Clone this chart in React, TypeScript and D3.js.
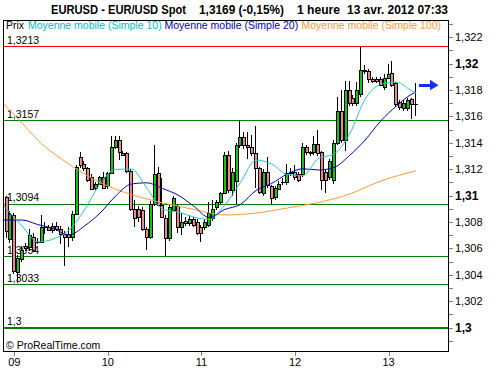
import React from "react";
import * as d3 from "d3";

// EUR/USD hourly candles, first candle = 22:00 on the 8th (hour -2 relative to 09 00:00)
const firstHour = -2;
const opens = [
  1.3099, 1.3067, 1.3085, 1.3042, 1.3052, 1.3060, 1.3061, 1.3069, 1.3065, 1.3065, 1.3076, 1.3076, 1.3074, 1.3077, 1.3075, 1.3071,
  1.3071, 1.3069, 1.3086, 1.3129, 1.3124, 1.3121, 1.3114, 1.3106, 1.3109, 1.3114, 1.3107, 1.3117, 1.3137, 1.3142, 1.3132, 1.3132,
  1.3119, 1.3090, 1.3090, 1.3089, 1.3075, 1.3069, 1.3094, 1.3117, 1.3093, 1.3083, 1.3068, 1.3089, 1.3092, 1.3076, 1.3081, 1.3079,
  1.3082, 1.3080, 1.3076, 1.3076, 1.3078, 1.3083, 1.3091, 1.3095, 1.3102, 1.3131, 1.3104, 1.3111, 1.3138, 1.3144, 1.3138, 1.3137,
  1.3132, 1.3121, 1.3102, 1.3118, 1.3107, 1.3099, 1.3105, 1.3110, 1.3110, 1.3117, 1.3118, 1.3116, 1.3116, 1.3137, 1.3133, 1.3133,
  1.3139, 1.3133, 1.3118, 1.3114, 1.3112, 1.3140, 1.3164, 1.3142, 1.3180, 1.3174, 1.3170, 1.3177, 1.3195, 1.3194, 1.3188, 1.3188,
  1.3188, 1.3182, 1.3189, 1.3193, 1.3185, 1.3171, 1.3166, 1.3166, 1.3173, 1.3169,
];
const highs = [
  1.3100, 1.3088, 1.3087, 1.3055, 1.3062, 1.3064, 1.3075, 1.3072, 1.3068, 1.3085, 1.3080, 1.3078, 1.3079, 1.3080, 1.3077, 1.3073,
  1.3076, 1.3088, 1.3123, 1.3133, 1.3126, 1.3122, 1.3116, 1.3110, 1.3115, 1.3118, 1.3118, 1.3145, 1.3145, 1.3145, 1.3134, 1.3133,
  1.3120, 1.3097, 1.3092, 1.3091, 1.3076, 1.3096, 1.3138, 1.3122, 1.3113, 1.3085, 1.3093, 1.3100, 1.3094, 1.3087, 1.3084, 1.3085,
  1.3084, 1.3082, 1.3078, 1.3082, 1.3095, 1.3097, 1.3097, 1.3103, 1.3133, 1.3134, 1.3121, 1.3140, 1.3157, 1.3148, 1.3148, 1.3146,
  1.3153, 1.3122, 1.3120, 1.3129, 1.3108, 1.3107, 1.3111, 1.3113, 1.3124, 1.3121, 1.3123, 1.3118, 1.3140, 1.3138, 1.3134, 1.3145,
  1.3150, 1.3134, 1.3120, 1.3128, 1.3142, 1.3175, 1.3180, 1.3187, 1.3187, 1.3176, 1.3186, 1.3213, 1.3199, 1.3196, 1.3190, 1.3190,
  1.3190, 1.3192, 1.3200, 1.3202, 1.3186, 1.3172, 1.3172, 1.3174, 1.3174, 1.3185,
];
const lows = [
  1.3068, 1.3064, 1.3041, 1.3034, 1.3050, 1.3058, 1.3058, 1.3057, 1.3063, 1.3064, 1.3071, 1.3073, 1.3072, 1.3073, 1.3063, 1.3047,
  1.3061, 1.3066, 1.3085, 1.3121, 1.3119, 1.3110, 1.3104, 1.3104, 1.3108, 1.3105, 1.3105, 1.3116, 1.3135, 1.3127, 1.3130, 1.3117,
  1.3088, 1.3076, 1.3080, 1.3073, 1.3059, 1.3067, 1.3092, 1.3092, 1.3083, 1.3054, 1.3066, 1.3088, 1.3072, 1.3070, 1.3077, 1.3077,
  1.3076, 1.3070, 1.3065, 1.3074, 1.3076, 1.3081, 1.3089, 1.3094, 1.3101, 1.3102, 1.3100, 1.3094, 1.3136, 1.3135, 1.3128, 1.3130,
  1.3106, 1.3101, 1.3100, 1.3106, 1.3094, 1.3097, 1.3104, 1.3108, 1.3108, 1.3115, 1.3112, 1.3110, 1.3114, 1.3131, 1.3130, 1.3131,
  1.3130, 1.3104, 1.3102, 1.3112, 1.3109, 1.3138, 1.3140, 1.3134, 1.3168, 1.3168, 1.3168, 1.3175, 1.3192, 1.3185, 1.3185, 1.3185,
  1.3183, 1.3180, 1.3188, 1.3182, 1.3167, 1.3165, 1.3164, 1.3164, 1.3158, 1.3160,
];
const closes = [
  1.3073, 1.3086, 1.3043, 1.3053, 1.3059, 1.3062, 1.3070, 1.3059, 1.3065, 1.3076, 1.3076, 1.3074, 1.3077, 1.3075, 1.3071, 1.3069,
  1.3069, 1.3086, 1.3122, 1.3123, 1.3121, 1.3112, 1.3105, 1.3109, 1.3114, 1.3106, 1.3117, 1.3137, 1.3142, 1.3133, 1.3131, 1.3119,
  1.3090, 1.3083, 1.3084, 1.3075, 1.3069, 1.3094, 1.3116, 1.3093, 1.3084, 1.3068, 1.3091, 1.3098, 1.3076, 1.3080, 1.3079, 1.3082,
  1.3078, 1.3072, 1.3072, 1.3080, 1.3087, 1.3090, 1.3095, 1.3102, 1.3131, 1.3104, 1.3118, 1.3138, 1.3144, 1.3138, 1.3137, 1.3132,
  1.3121, 1.3103, 1.3118, 1.3108, 1.3098, 1.3106, 1.3109, 1.3110, 1.3117, 1.3118, 1.3114, 1.3112, 1.3137, 1.3133, 1.3132, 1.3139,
  1.3132, 1.3112, 1.3112, 1.3126, 1.3140, 1.3164, 1.3142, 1.3180, 1.3170, 1.3170, 1.3180, 1.3195, 1.3194, 1.3188, 1.3187, 1.3187,
  1.3184, 1.3189, 1.3192, 1.3184, 1.3169, 1.3167, 1.3170, 1.3172, 1.3169, 1.3169,
];

// moving averages
const maHours = [-3, 2, 6, 10, 14, 18, 22, 26, 30, 34, 38, 42, 46, 50, 54, 58, 62, 66, 70, 74, 78, 82, 86, 90, 94, 98, 102, 103];
const sma10 = [
  1.3093, 1.3077, 1.30649, 1.30671, 1.30736, 1.30891, 1.31088, 1.31198, 1.31201, 1.31057, 1.30898, 1.30876, 1.30838, 1.30819,
  1.30929, 1.31099, 1.31269, 1.31239, 1.3116, 1.31152, 1.31281, 1.31315, 1.31466, 1.31731, 1.31842, 1.3186, 1.31792, 1.31779,
];
const sma20 = [
  1.30815, 1.30815, 1.30781, 1.30751, 1.30702, 1.3077, 1.30868, 1.30997, 1.31088, 1.31097, 1.31054, 1.31004, 1.30921, 1.30834,
  1.30895, 1.30933, 1.31039, 1.31092, 1.31163, 1.31203, 1.31194, 1.31213, 1.31304, 1.31421, 1.31565, 1.31678, 1.31769, 1.31784,
];
const sma100Hours = [-3, 2, 6, 14, 22, 30, 38, 46, 54, 62, 70, 78, 86, 94, 103];
const sma100 = [1.31701, 1.31549, 1.31421, 1.31239, 1.31099, 1.31008, 1.30946, 1.30896, 1.30853, 1.30868, 1.30906, 1.30948, 1.31012, 1.3111, 1.31188];

const levels = [1.3213, 1.3157, 1.3094, 1.3054, 1.3033, 1.3];
const levelLabels = ["1,3213", "1,3157", "1,3094", "1,3054", "1,3033", "1,3"];
const dayHours = [0, 24, 48, 72, 96];
const dayLabels = ["09", "10", "11", "12", "13"];
const arrowLevel = 1.3184;

const W = 500;
const H = 370;
const left = 3;
const right = 449;
const top = 20;
const bottom = 352;
const font = "'Liberation Sans', Arial, sans-serif";

export default function App() {
  const x = d3.scaleLinear().domain([-2.9, 111.5]).range([left, right]);
  const y = d3.scaleLinear().domain([1.3, 1.32]).range([327.7, 63.5]);

  const candles = closes.map((c, i) => ({ h: firstHour + i, o: opens[i], hi: highs[i], lo: lows[i], c }));

  const line = d3
    .line<[number, number]>()
    .x((d) => x(d[0]))
    .y((d) => y(d[1]))
    .curve(d3.curveMonotoneX);

  const minorTicks = d3.range(1299, 1324).map((v) => v / 1000);
  const majorTicks = d3.range(1300, 1324, 2).map((v) => v / 1000);
  const fmt = (v: number) => String(+v.toFixed(3)).replace(".", ",");

  return (
    <svg width={W} height={H} style={{ position: "absolute", left: 0, top: 0, background: "#fff" }} fontFamily={font}>
      <defs>
        <clipPath id="plot">
          <rect x={left} y={top} width={right - left} height={bottom - top} />
        </clipPath>
      </defs>
      <rect x={0} y={0} width={W} height={H} fill="#fff" />

      {/* title */}
      <g fontSize={12} fontWeight="bold" fill="#000">
        <text x={51} y={14} textLength={135} lengthAdjust="spacingAndGlyphs">EURUSD - EUR/USD Spot</text>
        <text x={199} y={14} textLength={85} lengthAdjust="spacingAndGlyphs">1,3169 (-0,15%)</text>
        <text x={297} y={14} textLength={43} lengthAdjust="spacingAndGlyphs">1 heure</text>
        <text x={347} y={14} textLength={101} lengthAdjust="spacingAndGlyphs">13 avr. 2012 07:33</text>
      </g>

      {/* legend */}
      <g fontSize={10.5}>
        <text x={6} y={29} fill="#000">Prix</text>
        <text x={28} y={29} fill="#00c0c0">Moyenne mobile (Simple 10)</text>
        <text x={164.5} y={29} fill="#0000c0">Moyenne mobile (Simple 20)</text>
        <text x={301.5} y={29} fill="#ff9933">Moyenne mobile (Simple 100)</text>
      </g>

      {/* levels */}
      {levels.map((v, i) => (
        <g key={v}>
          <line
            x1={left}
            x2={right}
            y1={Math.round(y(v)) + (v === 1.3 ? 0 : 0.5)}
            y2={Math.round(y(v)) + (v === 1.3 ? 0 : 0.5)}
            stroke={i === 0 ? "#ff0000" : "#008000"}
            strokeWidth={v === 1.3 ? 2.2 : 1.2}
          />
          <text x={7} y={y(v) - 2.5} fontSize={10.5} fill="#000">
            {levelLabels[i]}
          </text>
        </g>
      ))}

      {/* candles */}
      <g clipPath="url(#plot)" shapeRendering="crispEdges">
        {candles.map((d) => {
          const cx = Math.round(x(d.h));
          const yTop = Math.round(y(Math.max(d.o, d.c)));
          const yBot = Math.round(y(Math.min(d.o, d.c)));
          return (
            <g key={d.h}>
              <line x1={cx - 0.5} x2={cx - 0.5} y1={Math.round(y(d.hi))} y2={Math.round(y(d.lo))} stroke="#000" />
              {yBot - yTop < 1 ? (
                <line x1={cx - 2} x2={cx + 2} y1={yTop + 0.5} y2={yTop + 0.5} stroke="#000" />
              ) : (
                <rect
                  x={cx - 1.5}
                  y={yTop + 0.5}
                  width={3}
                  height={yBot - yTop}
                  fill={d.c >= d.o ? "#10c810" : "#f08888"}
                  stroke="#000"
                />
              )}
            </g>
          );
        })}
      </g>

      {/* moving averages */}
      <g clipPath="url(#plot)" fill="none" strokeWidth={1}>
        <path d={line(sma100Hours.map((h, i) => [h, sma100[i]])) || ""} stroke="#ff9933" />
        <path d={line(maHours.map((h, i) => [h, sma20[i]])) || ""} stroke="#0000c0" />
        <path d={line(maHours.map((h, i) => [h, sma10[i]])) || ""} stroke="#20c8c8" />
      </g>

      {/* arrow */}
      <g fill="#1030ff">
        <rect x={419} y={Math.round(y(arrowLevel)) - 1} width={12} height={3} />
        <path d={`M430,${y(arrowLevel) - 5}L438.5,${y(arrowLevel) + 0.5}L430,${y(arrowLevel) + 5.5}Z`} />
      </g>

      <text x={6} y={349} fontSize={10.5} fill="#000">
        © ProRealTime.com
      </text>

      {/* frame */}
      <rect
        x={left + 0.5}
        y={top + 0.5}
        width={right - left - 1}
        height={bottom - top - 1}
        fill="none"
        stroke="#000"
        shapeRendering="crispEdges"
      />

      {/* y axis */}
      <g shapeRendering="crispEdges">
        {minorTicks.map((v) => (
          <line key={v} x1={right} x2={right + 4} y1={Math.round(y(v)) + 0.5} y2={Math.round(y(v)) + 0.5} stroke="#808080" />
        ))}
      </g>
      {majorTicks.map((v) => {
        const bold = Math.abs(v * 100 - Math.round(v * 100)) < 1e-6;
        return (
          <text
            key={v}
            x={455}
            y={y(v) + 4}
            fontSize={bold ? 12 : 11}
            fontWeight={bold ? "bold" : "normal"}
            fill="#000"
          >
            {fmt(v)}
          </text>
        );
      })}

      {/* x axis */}
      {dayHours.map((h, i) => (
        <g key={h}>
          <line
            x1={Math.round(x(h)) + 0.5}
            x2={Math.round(x(h)) + 0.5}
            y1={bottom}
            y2={bottom + 4}
            stroke="#808080"
            shapeRendering="crispEdges"
          />
          <text x={x(h)} y={366} fontSize={11} textAnchor="middle" fill="#000">
            {dayLabels[i]}
          </text>
        </g>
      ))}
    </svg>
  );
}
